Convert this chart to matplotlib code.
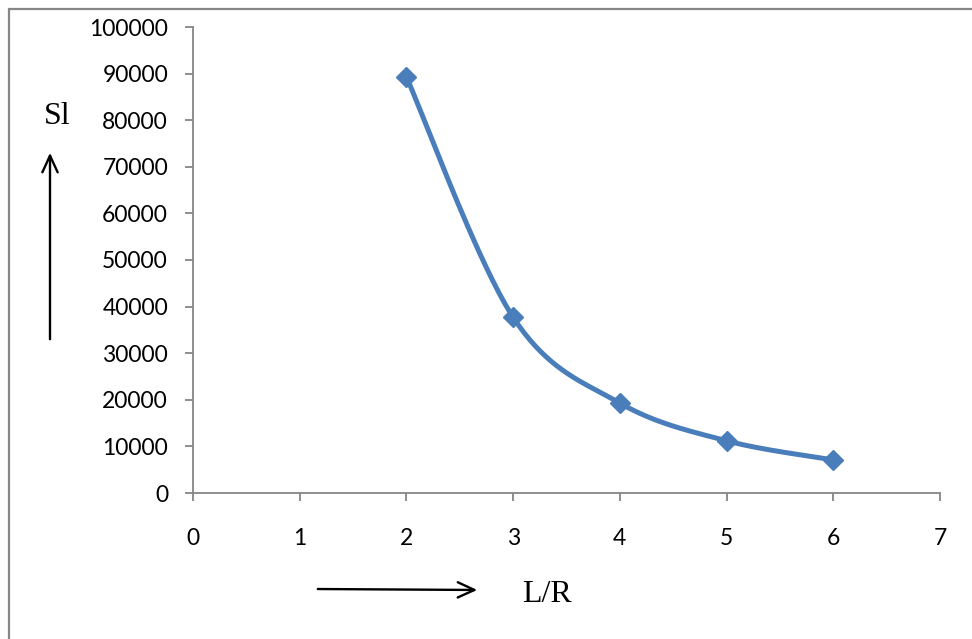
# importing the packages
import numpy as np
import matplotlib.pyplot as plt
from matplotlib.patches import Rectangle

# data
lr_values = [2, 3, 4, 5, 6]
sl_values = [89300, 37700, 19300, 11200, 7100]
x_ticks = [0, 1, 2, 3, 4, 5, 6, 7]
y_ticks = [0, 10000, 20000, 30000, 40000, 50000, 60000, 70000, 80000, 90000, 100000]

blue = "#4A7EBB"
grey = "#868686"


def smooth_curve(ax, xs, ys, steps=40):
    """
    Excel style smoothed line (bezier through the points),
    worked out in pixel space and turned back into data units
    """
    pts = ax.transData.transform(np.column_stack([xs, ys]))
    n = len(pts)
    out = []
    for i in range(n - 1):
        p0 = pts[max(i - 1, 0)]
        p1 = pts[i]
        p2 = pts[i + 1]
        p3 = pts[min(i + 2, n - 1)]
        c1 = p1 + (p2 - p0) / 6.0
        c2 = p2 - (p3 - p1) / 6.0
        t = np.linspace(0, 1, steps)[:, None]
        seg = ((1 - t) ** 3 * p1 + 3 * (1 - t) ** 2 * t * c1
               + 3 * (1 - t) * t ** 2 * c2 + t ** 3 * p2)
        out.append(seg)
    out = np.vstack(out)
    return ax.transData.inverted().transform(out)


fig = plt.figure(figsize=(9.72, 6.39), dpi=100)
ax = fig.add_axes([193 / 972, 1 - 493 / 639, (940 - 193) / 972, (493 - 27) / 639])

ax.set_xlim(0, 7)
ax.set_ylim(0, 100000)

# smoothed line with diamond markers
curve = smooth_curve(ax, lr_values, sl_values)
ax.plot(curve[:, 0], curve[:, 1], color=blue, linewidth=3.6,
        solid_capstyle="round", zorder=3)
ax.plot(lr_values, sl_values, linestyle="none", marker="D", markersize=10,
        color=blue, zorder=4, clip_on=False)

# axes styling like excel
for side in ["top", "right"]:
    ax.spines[side].set_visible(False)
for side in ["left", "bottom"]:
    ax.spines[side].set_color(grey)
    ax.spines[side].set_linewidth(1.3)

ax.set_xticks(x_ticks)
ax.set_yticks(y_ticks)
ax.set_yticklabels([str(v) for v in y_ticks])
ax.tick_params(axis="both", direction="out", length=6, width=1.3, color=grey,
               labelsize=16.5, labelcolor="black")
ax.tick_params(axis="x", pad=19)
ax.tick_params(axis="y", pad=12)
for lab in ax.get_xticklabels() + ax.get_yticklabels():
    lab.set_fontfamily("Lato")

# hand drawn axis names and arrows
fig.text(57 / 972, 1 - 117 / 639, "Sl", family="Liberation Serif",
         fontsize=23, ha="center", va="center")
fig.text(547 / 972, 1 - 594 / 639, "L/R", family="Liberation Serif",
         fontsize=23, ha="center", va="center")

ax.annotate("", xy=(50 / 972, 1 - 150 / 639), xytext=(50 / 972, 1 - 342 / 639),
            xycoords="figure fraction", textcoords="figure fraction",
            arrowprops=dict(arrowstyle="->,head_length=1.2,head_width=0.55",
                            color="black", lw=1.7))
ax.annotate("", xy=(480 / 972, 1 - 590 / 639), xytext=(315 / 972, 1 - 589 / 639),
            xycoords="figure fraction", textcoords="figure fraction",
            arrowprops=dict(arrowstyle="->,head_length=1.2,head_width=0.55",
                            color="black", lw=1.7))

# outer chart border
fig.patches.append(Rectangle((9 / 972, -0.05), 1.1, 1.05 - 9 / 639,
                             transform=fig.transFigure, fill=False,
                             edgecolor=grey, linewidth=1.6))

plt.savefig("out.png", dpi=100)
